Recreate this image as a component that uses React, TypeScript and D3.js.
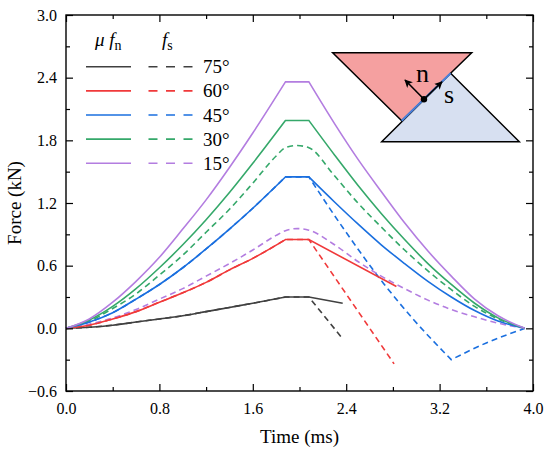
import React, { useEffect, useRef } from 'react';
import * as d3 from 'd3';

type Pt = [number, number];

const angles = ['75°', '60°', '45°', '30°', '15°'];
const colors = ['#404040', '#f0393a', '#1a6fdf', '#35a86a', '#b37de0'];

const xTicks = [0, 0.8, 1.6, 2.4, 3.2, 4.0];
const xMinor = [0.4, 1.2, 2.0, 2.8, 3.6];
const yTicks = [-0.6, 0, 0.6, 1.2, 1.8, 2.4, 3.0];
const yMinor = [-0.3, 0.3, 0.9, 1.5, 2.1, 2.7];

// loading branch, 0 -> 1.88 ms
const rise75: Pt[] = [[0, 0], [0.2, 0.01], [0.4, 0.03], [0.6, 0.06], [0.8, 0.09], [1.0, 0.12], [1.2, 0.16], [1.4, 0.2], [1.6, 0.24], [1.88, 0.3]];
const rise60: Pt[] = [[0, 0], [0.2, 0.03], [0.4, 0.09], [0.6, 0.16], [0.8, 0.25], [1.0, 0.34], [1.2, 0.44], [1.4, 0.56], [1.6, 0.67], [1.88, 0.85]];
const rise45: Pt[] = [[0, 0], [0.2, 0.06], [0.4, 0.15], [0.6, 0.28], [0.8, 0.42], [1.0, 0.58], [1.2, 0.76], [1.4, 0.95], [1.6, 1.15], [1.88, 1.45]];
const rise30: Pt[] = [[0, 0], [0.2, 0.08], [0.4, 0.21], [0.6, 0.38], [0.8, 0.58], [1.0, 0.8], [1.2, 1.04], [1.4, 1.3], [1.6, 1.58], [1.88, 1.99]];
const rise15: Pt[] = [[0, 0], [0.2, 0.09], [0.4, 0.25], [0.6, 0.45], [0.8, 0.68], [1.0, 0.95], [1.2, 1.23], [1.4, 1.54], [1.6, 1.87], [1.88, 2.36]];

// unloading branches of mu*fn
const fall75: Pt[] = [[2.08, 0.3], [2.37, 0.24]];
const fall60: Pt[] = [[2.08, 0.85], [2.83, 0.4]];
const fall45: Pt[] = [[2.08, 1.45], [2.3, 1.21], [2.5, 1.0], [2.7, 0.8], [2.9, 0.62], [3.1, 0.45], [3.3, 0.3], [3.5, 0.17], [3.7, 0.07], [3.93, 0]];
const fall30: Pt[] = [[2.08, 1.99], [2.3, 1.66], [2.5, 1.37], [2.7, 1.1], [2.9, 0.85], [3.1, 0.62], [3.3, 0.42], [3.5, 0.24], [3.7, 0.1], [3.93, 0]];
const fall15: Pt[] = [[2.08, 2.36], [2.3, 1.96], [2.5, 1.62], [2.7, 1.31], [2.9, 1.01], [3.1, 0.74], [3.3, 0.5], [3.5, 0.28], [3.7, 0.12], [3.93, 0]];

// fs branches after the plateau
const slip75: Pt[] = [[2.08, 0.3], [2.37, -0.1]];
const slip60: Pt[] = [[2.08, 0.85], [2.81, -0.34]];
const slip45a: Pt[] = [[2.08, 1.45], [2.38, 0.95], [2.72, 0.43], [2.98, 0.08], [3.3, -0.3]];
const slip45b: Pt[] = [[3.3, -0.3], [3.6, -0.14], [3.93, 0]];
const fs30: Pt[] = [[0, 0], [0.2, 0.07], [0.4, 0.19], [0.6, 0.33], [0.8, 0.51], [1.0, 0.7], [1.2, 0.92], [1.4, 1.14], [1.6, 1.39], [1.8, 1.65], [1.88, 1.73], [1.98, 1.75], [2.08, 1.73], [2.3, 1.46], [2.5, 1.2], [2.7, 0.97], [2.9, 0.75], [3.1, 0.55], [3.3, 0.37], [3.5, 0.21], [3.7, 0.09], [3.93, 0]];
const fs15: Pt[] = [[0, 0], [0.2, 0.04], [0.4, 0.1], [0.6, 0.18], [0.8, 0.28], [1.0, 0.38], [1.2, 0.5], [1.4, 0.62], [1.6, 0.75], [1.8, 0.89], [1.88, 0.935], [1.98, 0.955], [2.08, 0.94], [2.3, 0.8], [2.5, 0.64], [2.7, 0.5], [2.9, 0.38], [3.1, 0.27], [3.3, 0.18], [3.5, 0.11], [3.7, 0.05], [3.93, 0]];

const fnSeries: Pt[][][] = [
  [rise75, fall75],
  [rise60, fall60],
  [rise45, fall45],
  [rise30, fall30],
  [rise15, fall15],
];
const fsSeries: Pt[][][] = [
  [rise75, slip75],
  [rise60, slip60],
  [rise45, slip45a, slip45b],
  [fs30],
  [fs15],
];

const FONT = '"Liberation Serif", "Times New Roman", serif';

export default function App() {
  const svgRef = useRef<SVGSVGElement>(null);

  useEffect(() => {
    if (!svgRef.current) return;
    const width = 550;
    const height = 454;
    const svg = d3.select(svgRef.current).attr('width', width).attr('height', height);
    svg.selectAll('*').remove();

    const x = d3.scaleLinear().domain([0, 4]).range([66, 533]);
    const y = d3.scaleLinear().domain([-0.6, 3.0]).range([391, 15]);

    const line = d3.line<Pt>()
      .x(d => x(d[0]))
      .y(d => y(d[1]))
      .curve(d3.curveMonotoneX);

    // pieces joined with straight segments (plateau / kinks stay sharp)
    const pathOf = (pieces: Pt[][]) =>
      pieces.map((p, i) => {
        const d = line(p) || '';
        return i === 0 ? d : d.replace(/^M/, 'L');
      }).join('');

    const plot = svg.append('g');

    fsSeries.forEach((pieces, i) => {
      plot.append('path')
        .attr('d', pathOf(pieces))
        .attr('fill', 'none')
        .attr('stroke', colors[i])
        .attr('stroke-width', 1.6)
        .attr('stroke-dasharray', '6,4');
    });
    fnSeries.forEach((pieces, i) => {
      plot.append('path')
        .attr('d', pathOf(pieces))
        .attr('fill', 'none')
        .attr('stroke', colors[i])
        .attr('stroke-width', 1.6);
    });

    // axes, ticks pointing inward
    const styleAxis = (g: d3.Selection<SVGGElement, unknown, null, undefined>) => {
      g.select('.domain').remove();
      g.attr('font-family', FONT).attr('font-size', 16);
      g.selectAll('line').attr('stroke', '#000').attr('stroke-width', 1.2);
      g.selectAll('text').attr('fill', '#000');
    };
    const fmt = d3.format('.1f');

    svg.append('g').attr('transform', `translate(0,${y(-0.6)})`)
      .call(d3.axisBottom(x).tickValues(xTicks).tickSize(-7).tickPadding(12).tickFormat(d => fmt(d as number)))
      .call(styleAxis);
    svg.append('g').attr('transform', `translate(0,${y(-0.6)})`)
      .call(d3.axisBottom(x).tickValues(xMinor).tickSize(-4).tickFormat(() => ''))
      .call(styleAxis);
    svg.append('g').attr('transform', `translate(0,${y(3.0)})`)
      .call(d3.axisTop(x).tickValues(xTicks).tickSize(-7).tickFormat(() => ''))
      .call(styleAxis);
    svg.append('g').attr('transform', `translate(0,${y(3.0)})`)
      .call(d3.axisTop(x).tickValues(xMinor).tickSize(-4).tickFormat(() => ''))
      .call(styleAxis);

    svg.append('g').attr('transform', `translate(${x(0)},0)`)
      .call(d3.axisLeft(y).tickValues(yTicks).tickSize(-7).tickPadding(9).tickFormat(d => fmt(d as number)))
      .call(styleAxis);
    svg.append('g').attr('transform', `translate(${x(0)},0)`)
      .call(d3.axisLeft(y).tickValues(yMinor).tickSize(-4).tickFormat(() => ''))
      .call(styleAxis);
    svg.append('g').attr('transform', `translate(${x(4)},0)`)
      .call(d3.axisRight(y).tickValues(yTicks).tickSize(-7).tickFormat(() => ''))
      .call(styleAxis);
    svg.append('g').attr('transform', `translate(${x(4)},0)`)
      .call(d3.axisRight(y).tickValues(yMinor).tickSize(-4).tickFormat(() => ''))
      .call(styleAxis);

    svg.append('rect')
      .attr('x', x(0)).attr('y', y(3.0))
      .attr('width', x(4) - x(0)).attr('height', y(-0.6) - y(3.0))
      .attr('fill', 'none').attr('stroke', '#000').attr('stroke-width', 1.4);

    // axis titles
    svg.append('text')
      .attr('x', (x(0) + x(4)) / 2).attr('y', 443)
      .attr('text-anchor', 'middle')
      .attr('font-family', FONT).attr('font-size', 19)
      .text('Time (ms)');
    svg.append('text')
      .attr('transform', `translate(21,${(y(3.0) + y(-0.6)) / 2}) rotate(-90)`)
      .attr('text-anchor', 'middle')
      .attr('font-family', FONT).attr('font-size', 19)
      .text('Force (kN)');

    // legend
    const leg = svg.append('g').attr('font-family', FONT).attr('font-size', 19);
    const h1 = leg.append('text').attr('x', 95).attr('y', 46);
    h1.append('tspan').attr('font-style', 'italic').text('μ f');
    h1.append('tspan').attr('dy', 4).attr('font-size', 14).text('n');
    const h2 = leg.append('text').attr('x', 162).attr('y', 46);
    h2.append('tspan').attr('font-style', 'italic').text('f');
    h2.append('tspan').attr('dy', 4).attr('font-size', 14).text('s');

    angles.forEach((a, i) => {
      const cy = 66.7 + i * 24.15;
      leg.append('line')
        .attr('x1', 86).attr('x2', 131).attr('y1', cy).attr('y2', cy)
        .attr('stroke', colors[i]).attr('stroke-width', 1.6);
      leg.append('line')
        .attr('x1', 148.5).attr('x2', 193.5).attr('y1', cy).attr('y2', cy)
        .attr('stroke', colors[i]).attr('stroke-width', 1.6)
        .attr('stroke-dasharray', '9,8.5');
      leg.append('text')
        .attr('x', 203).attr('y', cy + 6.5)
        .text(a);
    });

    // inset sketch of the contact
    const inset = svg.append('g');
    const defs = svg.append('defs');
    defs.append('marker')
      .attr('id', 'arrowHead')
      .attr('viewBox', '0 0 10 10')
      .attr('refX', 9).attr('refY', 5)
      .attr('markerUnits', 'userSpaceOnUse')
      .attr('markerWidth', 8).attr('markerHeight', 8)
      .attr('orient', 'auto')
      .append('path').attr('d', 'M0,0 L10,5 L0,10 L2.5,5 z').attr('fill', '#000');

    inset.append('polygon')
      .attr('points', '450.6,73.3 519.3,141.7 381.7,141.7')
      .attr('fill', '#d7e0f1').attr('stroke', '#000').attr('stroke-width', 1.5)
      .attr('stroke-linejoin', 'miter');
    inset.append('polygon')
      .attr('points', '332.7,52.7 471.7,52.7 401.7,120.7')
      .attr('fill', '#f5a0a0').attr('stroke', '#000').attr('stroke-width', 1.5);
    inset.append('line')
      .attr('x1', 450.6).attr('y1', 73.3).attr('x2', 401.7).attr('y2', 120.7)
      .attr('stroke', '#4a82dc').attr('stroke-width', 2);
    inset.append('line')
      .attr('x1', 424).attr('y1', 99.3).attr('x2', 405).attr('y2', 80)
      .attr('stroke', '#000').attr('stroke-width', 1.6).attr('marker-end', 'url(#arrowHead)');
    inset.append('line')
      .attr('x1', 424).attr('y1', 99.3).attr('x2', 442).attr('y2', 81.8)
      .attr('stroke', '#000').attr('stroke-width', 1.6).attr('marker-end', 'url(#arrowHead)');
    inset.append('circle').attr('cx', 424).attr('cy', 99.3).attr('r', 3.2).attr('fill', '#000');
    inset.append('text')
      .attr('x', 422.5).attr('y', 81.5).attr('text-anchor', 'middle')
      .attr('font-family', FONT).attr('font-size', 26).text('n');
    inset.append('text')
      .attr('x', 449).attr('y', 102.5).attr('text-anchor', 'middle')
      .attr('font-family', FONT).attr('font-size', 26).text('s');
  }, []);

  return (
    <div style={{ position: 'absolute', left: 0, top: 0, background: '#fff' }}>
      <svg ref={svgRef} style={{ display: 'block' }}></svg>
    </div>
  );
}
